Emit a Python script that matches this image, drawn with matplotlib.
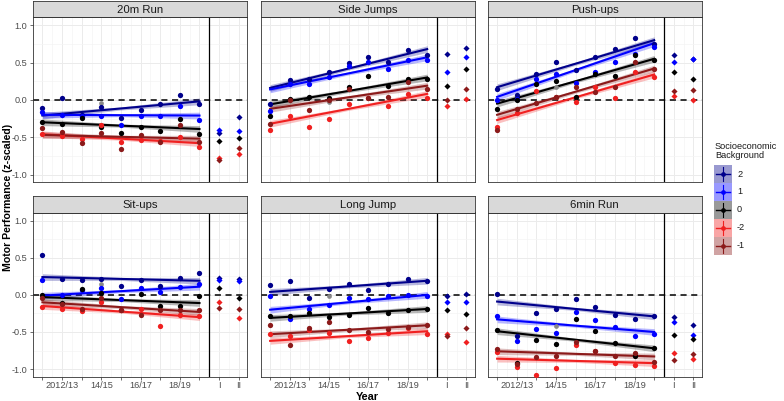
import matplotlib
matplotlib.use('Agg')
import matplotlib.pyplot as plt
import numpy as np
from matplotlib.patches import Rectangle
from matplotlib.ticker import MultipleLocator, FixedLocator

plt.rcParams['font.family'] = ['Liberation Sans', 'DejaVu Sans']

# ---------------- data ----------------
panel_titles = ['20m Run', 'Side Jumps', 'Push-ups', 'Sit-ups', 'Long Jump', '6min Run']
groups = ['2', '1', '0', '-2', '-1']
tick_labels = ['', '2012/13', '', '14/15', '', '16/17', '', '18/19', '', 'I', 'II']
y_ticks = [-1.0, -0.5, 0.0, 0.5, 1.0]

# values: 9 school years (2011/12 .. 2019/20), then periods I, II
run20_2 = [-0.11, 0.02, -0.20, -0.09, -0.24, -0.14, -0.05, 0.06, -0.05, -0.45, -0.23]
run20_1 = [-0.16, -0.20, -0.22, -0.22, -0.33, -0.21, -0.22, -0.08, -0.27, -0.41, -0.42]
run20_0 = [-0.29, -0.32, -0.24, -0.36, -0.45, -0.37, -0.42, -0.25, -0.46, -0.55, -0.51]
run20_m2 = [-0.46, -0.49, -0.53, -0.33, -0.56, -0.54, -0.55, -0.50, -0.63, -0.78, -0.73]
run20_m1 = [-0.38, -0.43, -0.58, -0.45, -0.66, -0.47, -0.56, -0.34, -0.56, -0.80, -0.64]

side_2 = [-0.06, 0.26, 0.28, 0.37, 0.50, 0.57, 0.51, 0.67, 0.60, 0.62, 0.69]
side_1 = [-0.15, 0.21, 0.21, 0.31, 0.45, 0.51, 0.41, 0.53, 0.54, 0.38, 0.57]
side_0 = [-0.21, 0.01, 0.04, 0.03, 0.17, 0.32, 0.18, 0.28, 0.28, 0.19, 0.41]
side_m2 = [-0.41, -0.22, -0.37, -0.26, -0.05, 0.02, -0.08, 0.08, 0.03, -0.08, 0.01]
side_m1 = [-0.32, 0.00, -0.14, 0.00, 0.14, 0.03, 0.04, 0.24, 0.14, 0.00, 0.14]

push_2 = [0.14, 0.06, 0.35, 0.51, 0.40, 0.57, 0.68, 0.83, 0.75, 0.60, 0.55]
push_1 = [0.00, 0.01, 0.28, 0.35, 0.23, 0.38, 0.51, 0.62, 0.71, 0.51, 0.55]
push_0 = [-0.12, 0.00, 0.21, 0.25, 0.04, 0.34, 0.32, 0.60, 0.54, 0.38, 0.28]
push_m2 = [-0.36, -0.17, 0.12, 0.04, -0.03, 0.17, 0.03, 0.38, 0.31, 0.05, 0.00]
push_m1 = [-0.41, -0.12, -0.04, 0.04, 0.17, 0.11, 0.17, 0.51, 0.41, 0.12, 0.13]

sit_2 = [0.54, 0.22, 0.20, 0.22, 0.12, 0.20, 0.12, 0.23, 0.29, 0.23, 0.21]
sit_1 = [0.20, 0.00, 0.06, 0.09, -0.05, 0.09, 0.04, 0.10, 0.15, 0.20, 0.19]
sit_0 = [0.00, -0.11, 0.08, 0.03, -0.21, 0.01, -0.15, -0.15, -0.02, 0.09, -0.04]
sit_m2 = [-0.16, -0.19, -0.22, -0.09, -0.20, -0.19, -0.42, -0.27, -0.28, -0.10, -0.31]
sit_m1 = [-0.04, -0.12, -0.19, -0.04, -0.20, -0.27, -0.21, -0.20, -0.21, -0.18, -0.19]

long_2 = [0.13, 0.19, -0.04, 0.08, 0.15, 0.06, 0.14, 0.22, 0.19, -0.01, 0.01]
long_1 = [-0.01, -0.32, -0.19, -0.14, -0.04, -0.05, -0.01, 0.00, -0.01, -0.10, -0.09]
long_0 = [-0.28, -0.28, -0.25, -0.30, -0.27, -0.18, -0.25, -0.21, -0.19, -0.21, -0.26]
long_m2 = [-0.53, -0.55, -0.48, -0.52, -0.62, -0.58, -0.52, -0.45, -0.53, -0.53, -0.64]
long_m1 = [-0.41, -0.68, -0.45, -0.36, -0.47, -0.50, -0.46, -0.43, -0.41, -0.55, -0.45]

min6_2 = [0.01, -0.55, -0.24, -0.19, -0.06, -0.16, -0.27, -0.33, -0.29, -0.30, -0.41]
min6_1 = [-0.29, -0.62, -0.46, -0.51, -0.23, -0.34, -0.43, -0.56, -0.53, -0.36, -0.54]
min6_0 = [-0.48, -0.92, -0.61, -0.66, -0.33, -0.49, -0.65, -0.83, -0.72, -0.54, -0.59]
min6_m2 = [-0.77, -0.97, -1.08, -0.98, -0.68, -0.76, -0.92, -0.94, -0.96, -0.79, -0.86]
min6_m1 = [-0.73, -0.93, -0.84, -0.82, -0.63, -0.75, -0.82, -0.79, -0.91, -0.88, -0.80]

# trend line (start value at first year, end value at last year), order: 2, 1, 0, -2, -1
run20_trend = [(-0.21, -0.02), (-0.20, -0.21), (-0.30, -0.39), (-0.46, -0.58), (-0.47, -0.52)]
side_trend = [(0.16, 0.68), (0.14, 0.57), (-0.06, 0.30), (-0.32, 0.08), (-0.12, 0.19)]
push_trend = [(0.17, 0.80), (0.04, 0.76), (-0.05, 0.55), (-0.27, 0.34), (-0.20, 0.42)]
sit_trend = [(0.24, 0.19), (-0.01, 0.11), (-0.03, -0.11), (-0.15, -0.30), (-0.10, -0.23)]
long_trend = [(0.04, 0.19), (-0.20, 0.00), (-0.31, -0.19), (-0.62, -0.49), (-0.53, -0.41)]
min6_trend = [(-0.09, -0.29), (-0.33, -0.50), (-0.49, -0.72), (-0.86, -0.92), (-0.76, -0.83)]

# grey 2014/15 point per panel
grey_1415 = [-0.04, -0.03, 0.17, 0.15, -0.01, -0.42]

panel_series = [
    [run20_2, run20_1, run20_0, run20_m2, run20_m1],
    [side_2, side_1, side_0, side_m2, side_m1],
    [push_2, push_1, push_0, push_m2, push_m1],
    [sit_2, sit_1, sit_0, sit_m2, sit_m1],
    [long_2, long_1, long_0, long_m2, long_m1],
    [min6_2, min6_1, min6_0, min6_m2, min6_m1],
]
panel_trends = [run20_trend, side_trend, push_trend, sit_trend, long_trend, min6_trend]

colors = ['#00008B', '#0000FF', '#000000', '#F02020', '#8B1A1A']

# ---------------- layout ----------------
W, H = 784, 401
fig = plt.figure(figsize=(W / 100, H / 100), dpi=100)

col_left = [33, 260.7, 487.7]
pw = 214
row_top = [17, 212.5]
row_h = [165, 164]
strip_h = 16.5

n_years = 9
year_x = np.arange(n_years)
period_x = [9, 10]
all_ticks = list(range(11))

def fx(px):
    return px / W

def fy(py):
    return 1 - py / H

for k in range(6):
    r, c = divmod(k, 3)
    left = col_left[c]
    top = row_top[r]
    ph = row_h[r]
    ax = fig.add_axes([fx(left), fy(top + ph), pw / W, ph / H])
    # strip
    sax = fig.add_axes([fx(left), fy(top), pw / W, strip_h / H])
    sax.set_facecolor('#D9D9D9')
    sax.set_xticks([]); sax.set_yticks([])
    for s in sax.spines.values():
        s.set_color('#333333'); s.set_linewidth(0.6)
    sax.text(0.5, 0.45, panel_titles[k], ha='center', va='center', fontsize=8.2, color='#1A1A1A')

    ax.set_xlim(-0.48, 10.42)
    ax.set_ylim(-1.1, 1.11)
    ax.set_facecolor('white')
    ax.xaxis.set_major_locator(FixedLocator(all_ticks))
    ax.xaxis.set_minor_locator(FixedLocator(np.arange(-0.5, 10.6, 1.0)))
    ax.yaxis.set_major_locator(FixedLocator(y_ticks))
    ax.yaxis.set_minor_locator(MultipleLocator(0.25))
    ax.grid(which='major', color='#EBEBEB', linewidth=0.7)
    ax.grid(which='minor', color='#F4F4F4', linewidth=0.5)
    ax.set_axisbelow(True)
    for s in ax.spines.values():
        s.set_color('#333333'); s.set_linewidth(0.6)
    ax.tick_params(which='minor', length=0)
    ax.tick_params(which='major', length=2.5, width=0.5, color='#333333',
                   labelsize=6.6, labelcolor='#4D4D4D', pad=1.5)
    ax.tick_params(axis='x', pad=0.8)
    if c == 0:
        ax.set_yticklabels(['-1.0', '-0.5', '0.0', '0.5', '1.0'])
    else:
        ax.tick_params(axis='y', labelleft=False, length=0)
    if r == 1:
        ax.set_xticklabels(tick_labels)
    else:
        ax.tick_params(axis='x', labelbottom=False, length=0)

    ax.axhline(0, color='black', linestyle=(0, (4, 3)), linewidth=1.1, zorder=2)
    ax.axvline(8.5, color='black', linewidth=0.9, zorder=2)

    xs = np.linspace(0, n_years - 1, 50)
    for g in range(5):
        vals = panel_series[k][g]
        y0, y1 = panel_trends[k][g]
        line = y0 + (y1 - y0) * xs / (n_years - 1)
        half = 0.02 + 0.025 * np.abs(xs - 4) / 4
        ax.fill_between(xs, line - half, line + half, color=colors[g], alpha=0.28,
                        linewidth=0, zorder=3)
        ax.plot(xs, line, color=colors[g], linewidth=1.5, zorder=4)
        ax.plot(year_x, vals[:n_years], 'o', color=colors[g], markersize=3.8,
                markeredgewidth=0, zorder=5)
        ax.plot(period_x, vals[n_years:], 'D', color=colors[g], markersize=3.1,
                markeredgewidth=0, zorder=5)
    ax.plot([3], [grey_1415[k]], 'o', color='#888888', markersize=3.4,
            markeredgewidth=0, zorder=4.5)

# axis titles
fig.text(fx(8), fy(197), 'Motor Performance (z-scaled)', rotation=90, ha='center',
         va='center', fontsize=7.6, fontweight='bold')
fig.text(fx(367), fy(400), 'Year', ha='center', va='baseline', fontsize=7.8, fontweight='bold')

# legend
fig.text(fx(715), fy(151), 'Socioeconomic\nBackground', ha='left', va='center',
         fontsize=6.6, color='#1A1A1A', linespacing=1.1)
key_h = 18
key_top = 165
for g in range(5):
    kt = key_top + g * key_h
    lax = fig.add_axes([fx(714), fy(kt + key_h), 18 / W, key_h / H])
    lax.set_xlim(0, 1); lax.set_ylim(0, 1)
    lax.axis('off')
    lax.add_patch(Rectangle((0, 0), 1, 1, facecolor=colors[g], alpha=0.4, linewidth=0))
    lax.plot([0.1, 0.9], [0.5, 0.5], color=colors[g], linewidth=1.0)
    lax.plot([0.5, 0.5], [0.1, 0.9], color=colors[g], linewidth=0.8)
    lax.plot([0.5], [0.5], 'o', color=colors[g], markersize=3.4, markeredgewidth=0)
    fig.text(fx(737), fy(kt + key_h / 2), groups[g], ha='left', va='center',
             fontsize=6.6, color='#1A1A1A')

fig.savefig('out.png', dpi=100)
